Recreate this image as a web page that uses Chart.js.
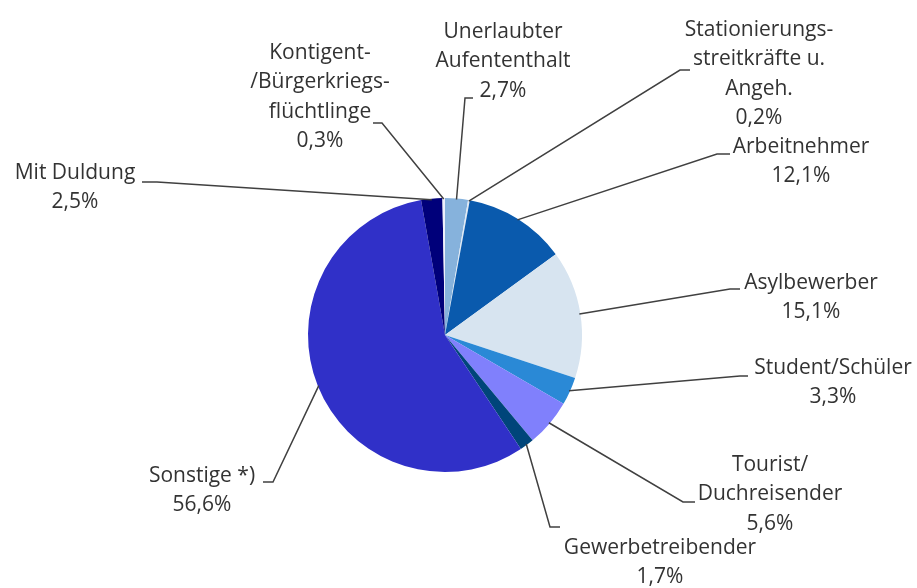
<!DOCTYPE html>
<html>
<head>
<meta charset="utf-8">
<script src="https://cdn.jsdelivr.net/npm/chart.js@4/dist/chart.umd.min.js"></script>
<style>
  html, body { margin: 0; padding: 0; background: #fff; }
  #wrap { width: 917px; height: 588px; }
</style>
</head>
<body>
<div id="wrap"><canvas id="chart" width="917" height="588"></canvas></div>
<script>
// data, clockwise from 12 o'clock
var categories = [
  ["Unerlaubter", "Aufententhalt"],
  ["Stationierungs-", "streitkräfte u.", "Angeh."],
  ["Arbeitnehmer"],
  ["Asylbewerber"],
  ["Student/Schüler"],
  ["Tourist/", "Duchreisender"],
  ["Gewerbetreibender"],
  ["Sonstige *)"],
  ["Mit Duldung"],
  ["Kontigent-", "/Bürgerkriegs-", "flüchtlinge"]
];
var shares = [2.7, 0.2, 12.1, 15.1, 3.3, 5.6, 1.7, 56.6, 2.5, 0.3];
var sliceColors = ["#86b2dc", "#dfe9f4", "#0a5aad", "#d7e4f0", "#2a89d6",
                   "#8080fc", "#00457a", "#3030c8", "#00007a", "#eef0fb"];

// label placement: text centre x, first line y, elbow of leader, end of leader
var labelPos = [
  { x: 503, y: 32,  elbow: [465, 98],  end: [473, 98] },
  { x: 759, y: 30,  elbow: [680, 70],  end: [690, 70] },
  { x: 801, y: 147, elbow: [717, 154], end: [730, 154] },
  { x: 811, y: 283, elbow: [730, 289], end: [740, 289] },
  { x: 833, y: 368, elbow: [740, 376], end: [748, 376] },
  { x: 770, y: 465, elbow: [683, 502], end: [695, 502] },
  { x: 660, y: 548, elbow: [550, 527], end: [560, 527] },
  { x: 202, y: 476, elbow: [273, 482], end: [263, 482] },
  { x: 75,  y: 173, elbow: [157, 182], end: [142, 182] },
  { x: 320, y: 53,  elbow: [382, 123], end: [373, 123] }
];

var leaderLabels = {
  id: 'leaderLabels',
  afterDraw: function(chart) {
    var ctx = chart.ctx;
    var arcs = chart.getDatasetMeta(0).data;
    ctx.save();
    arcs.forEach(function(arc, i) {
      var p = labelPos[i];
      var mid = (arc.startAngle + arc.endAngle) / 2;
      var sx = arc.x + Math.cos(mid) * (arc.outerRadius - 1);
      var sy = arc.y + Math.sin(mid) * (arc.outerRadius - 1);
      ctx.strokeStyle = '#404040';
      ctx.lineWidth = 1.5;
      ctx.beginPath();
      ctx.moveTo(sx, sy);
      ctx.lineTo(p.elbow[0], p.elbow[1]);
      ctx.lineTo(p.end[0], p.end[1]);
      ctx.stroke();

      var lines = categories[i].concat([shares[i].toFixed(1).replace('.', ',') + '%']);
      ctx.fillStyle = '#333333';
      ctx.font = '21px "Open Sans"';
      ctx.textAlign = 'center';
      ctx.textBaseline = 'middle';
      lines.forEach(function(t, k) {
        ctx.fillText(t, p.x, p.y + k * 29.5);
      });
    });
    ctx.restore();
  }
};

new Chart(document.getElementById('chart'), {
  type: 'pie',
  data: {
    labels: categories.map(function(c) { return c.join(' '); }),
    datasets: [{
      data: shares,
      backgroundColor: sliceColors,
      borderWidth: 0
    }]
  },
  options: {
    responsive: false,
    animation: false,
    layout: { padding: { top: 198, bottom: 116, left: 308, right: 335 } },
    plugins: {
      legend: { display: false },
      tooltip: { enabled: false }
    }
  },
  plugins: [leaderLabels]
});
</script>
</body>
</html>
